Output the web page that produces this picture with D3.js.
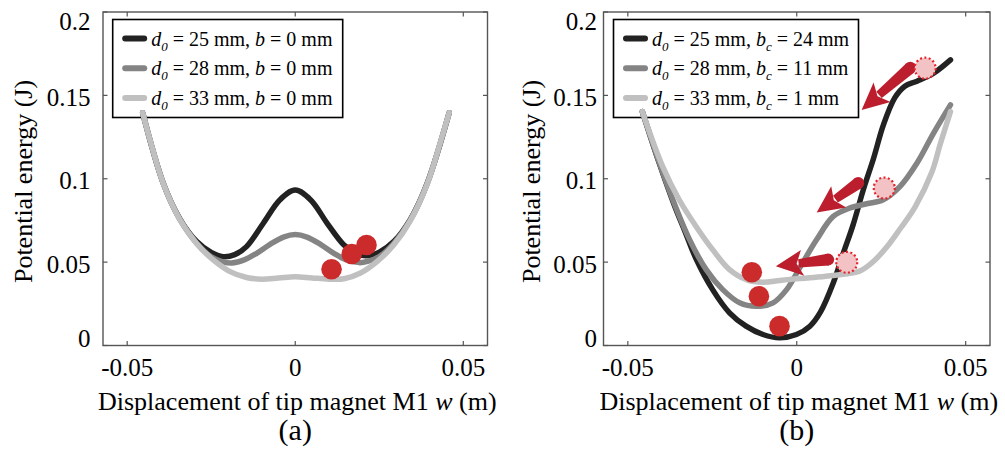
<!DOCTYPE html>
<html><head><meta charset="utf-8">
<script src="https://cdn.jsdelivr.net/npm/d3@7"></script>
<style>
body{margin:0;background:#fff}
svg{display:block}
text{font-family:"Liberation Serif","Times New Roman",serif;fill:#000}
</style>
</head><body>
<svg id="c" width="1005" height="454"></svg>
<script>
// ---------------- data ----------------
const xTicks = [-0.05, 0, 0.05];
const xTickLabels = ["-0.05", "0", "0.05"];
const yTicks = [0, 0.05, 0.1, 0.15, 0.2];
const yTickLabels = ["0", "0.05", "0.1", "0.15", "0.2"];
const seriesColors = ["#222222", "#848484", "#c0c0c0"];

const legendD0 = ["25", "28", "33"];
const legendBa = ["0", "0", "0"];
const legendBcb = ["24", "11", "1"];

// panel (a): d0 = 25, 28, 33 mm, b = 0
const aBlackW = [-0.0454,-0.0393,-0.0343,-0.0294,-0.0250,-0.0215,-0.0180,-0.0145,-0.0095,-0.0046,0,0.0046,0.0095,0.0145,0.0182,0.0210,0.0250,0.0294,0.0343,0.0393,0.0458];
const aBlackE = [0.1396,0.0975,0.0758,0.0625,0.0558,0.0533,0.0545,0.0593,0.0733,0.0873,0.0932,0.0873,0.0733,0.0603,0.0553,0.0538,0.0560,0.0625,0.0758,0.0975,0.1396];
const aGrayW = [-0.0454,-0.0393,-0.0343,-0.0294,-0.0250,-0.0215,-0.0190,-0.0150,-0.0115,-0.0075,-0.0035,0,0.0035,0.0075,0.0115,0.0150,0.0190,0.0215,0.0250,0.0294,0.0343,0.0393,0.0458];
const aGrayE = [0.1396,0.0975,0.0756,0.0615,0.0532,0.0502,0.0495,0.0515,0.0553,0.0607,0.0650,0.0665,0.0650,0.0607,0.0553,0.0515,0.0497,0.0504,0.0534,0.0615,0.0756,0.0975,0.1396];
const aLightW = [-0.0454,-0.0432,-0.0393,-0.0343,-0.0294,-0.0244,-0.0194,-0.0145,-0.0100,-0.0050,0,0.0050,0.0100,0.0145,0.0194,0.0244,0.0294,0.0343,0.0393,0.0432,0.0458];
const aLightE = [0.1396,0.1232,0.0973,0.0753,0.0613,0.0513,0.0443,0.0408,0.0398,0.0405,0.0413,0.0405,0.0398,0.0400,0.0435,0.0505,0.0605,0.0750,0.0970,0.1220,0.1396];
const aDotsW = [0.0108, 0.0168, 0.0212];
const aDotsE = [0.0457, 0.0549, 0.0603];

// panel (b): d0 = 25, 28, 33 mm, bc = 24, 11, 1 mm
const bBlackW = [-0.0457,-0.0408,-0.0362,-0.0330,-0.0298,-0.0249,-0.0199,-0.0150,-0.0100,-0.0051,-0.0001,0.0039,0.0070,0.0108,0.0138,0.0167,0.0197,0.0227,0.0256,0.0290,0.0320,0.0356,0.0405,0.0455];
const bBlackE = [0.1403,0.1100,0.0840,0.0680,0.0520,0.0335,0.0196,0.0116,0.0066,0.0046,0.0066,0.0116,0.0200,0.0375,0.0555,0.0725,0.0934,0.1120,0.1320,0.1485,0.1555,0.1585,0.1633,0.1713];
const bGrayW = [-0.0457,-0.0410,-0.0368,-0.0318,-0.0268,-0.0219,-0.0169,-0.0120,-0.0070,-0.0030,0.0010,0.0059,0.0108,0.0158,0.0207,0.0256,0.0306,0.0356,0.0405,0.0455];
const bGrayE = [0.1403,0.1115,0.0880,0.0638,0.0455,0.0335,0.0256,0.0235,0.0256,0.0335,0.0470,0.0635,0.0774,0.0825,0.0850,0.0874,0.0954,0.1094,0.1274,0.1443];
const bLightW = [-0.0457,-0.0397,-0.0348,-0.0298,-0.0249,-0.0199,-0.0149,-0.0100,-0.0050,0,0.0050,0.0108,0.0150,0.0190,0.0230,0.0270,0.0306,0.0350,0.0400,0.0425,0.0455];
const bLightE = [0.1403,0.1074,0.0874,0.0714,0.0575,0.0455,0.0395,0.0379,0.0390,0.0400,0.0408,0.0420,0.0430,0.0450,0.0510,0.0600,0.0700,0.0830,0.1040,0.1210,0.1403];
const bDotsW = [-0.0133, -0.0112, -0.0051];
const bDotsE = [0.0439, 0.0295, 0.0116];
const bGhostW = [0.0380, 0.0259, 0.0148];
const bGhostE = [0.1663, 0.0944, 0.0499];
const bArrowTailW = [0.0336, 0.0182, 0.0093];
const bArrowTailE = [0.1665, 0.0974, 0.0515];
const bArrowTipW = [0.0192, 0.0059, -0.0062];
const bArrowTipE = [0.1413, 0.0798, 0.0475];

// ---------------- drawing ----------------
const svg = d3.select("#c");
const zip = (w, e) => w.map((v, i) => [v, e[i]]);

const panels = [
  {
    x0: 103, x1: 487.5, letter: "(a)",
    series: [zip(aBlackW, aBlackE), zip(aGrayW, aGrayE), zip(aLightW, aLightE)],
    order: [0, 1, 2],
    dots: zip(aDotsW, aDotsE),
    ghosts: [], arrows: [],
    legend: {x: 112.7, y: 19.5, w: 230, h: 98, bLabel: "b", bSub: null, bVals: legendBa},
    yLabX: 90.5, yTitleX: 32
  },
  {
    x0: 603.5, x1: 990, letter: "(b)",
    series: [zip(bBlackW, bBlackE), zip(bGrayW, bGrayE), zip(bLightW, bLightE)],
    order: [0, 1, 2],
    dots: zip(bDotsW, bDotsE),
    ghosts: zip(bGhostW, bGhostE),
    arrows: bArrowTailW.map((v, i) => ({t: [v, bArrowTailE[i]], p: [bArrowTipW[i], bArrowTipE[i]]})),
    legend: {x: 613.5, y: 19.5, w: 245, h: 98, bLabel: "b", bSub: "c", bVals: legendBcb},
    yLabX: 597, yTitleX: 540
  }
];

const yTop = 12, yBot = 345.5;

panels.forEach(P => {
  const x = d3.scaleLinear().domain([-0.0572, 0.0572]).range([P.x0, P.x1]);
  const y = d3.scaleLinear().domain([0, 0.2]).range([yBot, yTop]);
  const g = svg.append("g");
  const cx = (P.x0 + P.x1) / 2;

  // box
  g.append("rect").attr("x", P.x0).attr("y", yTop).attr("width", P.x1 - P.x0).attr("height", yBot - yTop)
    .attr("fill", "none").attr("stroke", "#555").attr("stroke-width", 1.4);

  // ticks (inward, all four sides)
  const tl = 4.5;
  xTicks.forEach(t => {
    g.append("line").attr("x1", x(t)).attr("x2", x(t)).attr("y1", yBot).attr("y2", yBot - tl).attr("stroke", "#555").attr("stroke-width", 1.2);
    g.append("line").attr("x1", x(t)).attr("x2", x(t)).attr("y1", yTop).attr("y2", yTop + tl).attr("stroke", "#555").attr("stroke-width", 1.2);
  });
  yTicks.forEach(t => {
    g.append("line").attr("x1", P.x0).attr("x2", P.x0 + tl).attr("y1", y(t)).attr("y2", y(t)).attr("stroke", "#555").attr("stroke-width", 1.2);
    g.append("line").attr("x1", P.x1).attr("x2", P.x1 - tl).attr("y1", y(t)).attr("y2", y(t)).attr("stroke", "#555").attr("stroke-width", 1.2);
  });

  // tick labels
  xTicks.forEach((t, i) => {
    g.append("text").attr("x", x(t)).attr("y", 376).attr("text-anchor", "middle")
      .attr("font-size", 25).text(xTickLabels[i]);
  });
  yTicks.forEach((t, i) => {
    const cy = Math.max(21.7, Math.min(338, y(t) + 2));
    g.append("text").attr("x", P.yLabX).attr("y", cy + 8.5).attr("text-anchor", "end")
      .attr("font-size", 25).text(yTickLabels[i]);
  });

  // axis titles
  const xt = g.append("text").attr("x", cx + 2).attr("y", 410).attr("text-anchor", "middle").attr("font-size", 26);
  xt.append("tspan").text("Displacement of tip magnet M1 ");
  xt.append("tspan").attr("font-style", "italic").text("w");
  xt.append("tspan").text(" (m)");
  g.append("text").attr("transform", `translate(${P.yTitleX},181.5) rotate(-90)`).attr("text-anchor", "middle")
    .attr("font-size", 26).text("Potential energy (J)");
  g.append("text").attr("x", cx).attr("y", 440).attr("text-anchor", "middle").attr("font-size", 30).text(P.letter);

  // legend (drawn below the curves)
  const Lg = P.legend;
  g.append("rect").attr("x", Lg.x).attr("y", Lg.y).attr("width", Lg.w).attr("height", Lg.h)
    .attr("fill", "#fff").attr("stroke", "#000").attr("stroke-width", 1.6);
  [0, 1, 2].forEach(i => {
    const ry = Lg.y + 19 + i * 29.7;
    g.append("line").attr("x1", Lg.x + 12.5).attr("x2", Lg.x + 31.5).attr("y1", ry).attr("y2", ry)
      .attr("stroke", seriesColors[i]).attr("stroke-width", 6).attr("stroke-linecap", "round");
    const t = g.append("text").attr("x", Lg.x + 38.5).attr("y", ry + 7).attr("font-size", 20);
    t.append("tspan").attr("font-style", "italic").text("d");
    t.append("tspan").attr("font-style", "italic").attr("font-size", 13).attr("dy", 5).text("0");
    t.append("tspan").attr("dy", -5).text(` = ${legendD0[i]} mm, `);
    t.append("tspan").attr("font-style", "italic").text(Lg.bLabel);
    if (Lg.bSub) {
      t.append("tspan").attr("font-style", "italic").attr("font-size", 13).attr("dy", 5).text(Lg.bSub);
      t.append("tspan").attr("dy", -5).text(` = ${Lg.bVals[i]} mm`);
    } else {
      t.append("tspan").text(` = ${Lg.bVals[i]} mm`);
    }
  });

  // curves
  const line = d3.line().x(d => x(d[0])).y(d => y(d[1])).curve(d3.curveCatmullRom.alpha(0.5));
  P.order.forEach(k => {
    g.append("path").attr("d", line(P.series[k])).attr("fill", "none")
      .attr("stroke", seriesColors[k]).attr("stroke-width", 5.5)
      .attr("stroke-linecap", "round").attr("stroke-linejoin", "round");
  });

  // arrows
  const aCol = "#bd1e2d";
  P.arrows.forEach(a => {
    const T = [x(a.t[0]), y(a.t[1])], Pp = [x(a.p[0]), y(a.p[1])];
    const dx = Pp[0] - T[0], dy = Pp[1] - T[1], L = Math.hypot(dx, dy);
    const u = [dx / L, dy / L], n = [-u[1], u[0]];
    const hl = 27, hw = 13, notch = 6;
    const B = [Pp[0] - u[0] * hl, Pp[1] - u[1] * hl];
    const wT = 6, wB = 4.2;
    g.append("circle").attr("cx", T[0]).attr("cy", T[1]).attr("r", wT).attr("fill", aCol);
    g.append("path").attr("d",
      `M${T[0] + n[0] * wT},${T[1] + n[1] * wT} L${B[0] + n[0] * wB + u[0] * 4},${B[1] + n[1] * wB + u[1] * 4} L${B[0] - n[0] * wB + u[0] * 4},${B[1] - n[1] * wB + u[1] * 4} L${T[0] - n[0] * wT},${T[1] - n[1] * wT} Z`)
      .attr("fill", aCol);
    g.append("path").attr("d",
      `M${Pp[0]},${Pp[1]} L${B[0] + n[0] * hw},${B[1] + n[1] * hw} L${B[0] + u[0] * notch},${B[1] + u[1] * notch} L${B[0] - n[0] * hw},${B[1] - n[1] * hw} Z`)
      .attr("fill", aCol);
  });

  // ghost positions
  P.ghosts.forEach(d => {
    g.append("circle").attr("cx", x(d[0])).attr("cy", y(d[1])).attr("r", 10.5)
      .attr("fill", "#f2c2c4").attr("stroke", "#e8222a").attr("stroke-width", 2.2)
      .attr("stroke-dasharray", "2 2.4");
  });

  // balls
  P.dots.forEach(d => {
    g.append("circle").attr("cx", x(d[0])).attr("cy", y(d[1])).attr("r", 10.3).attr("fill", "#cc2b2b");
  });
});
</script>
</body></html>
